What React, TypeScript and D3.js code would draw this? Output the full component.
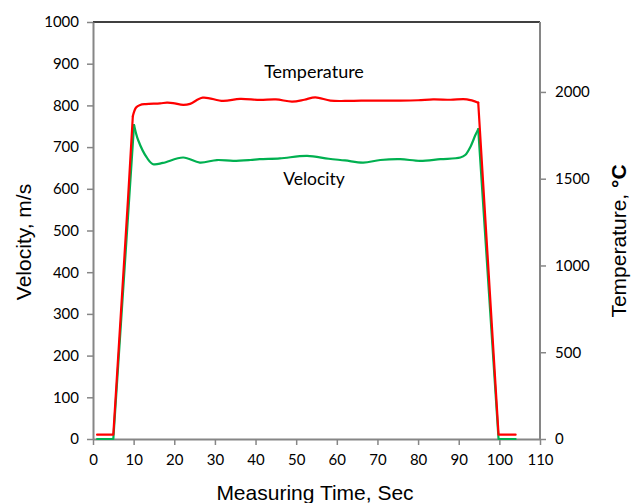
import React, { useRef, useEffect } from 'react';
import * as d3 from 'd3';

// temperature trace (red, right axis, °C)
const tempTime = [1, 5, 8.6, 9.8, 10.6, 11.6, 13, 16.5, 18.2, 19.7, 22.2, 23.9, 27, 32, 36.2, 41, 45, 49, 52, 54.7, 58.4, 62, 66, 70.7, 75.6, 80, 83.7, 88, 92, 94.8, 99.8, 104];
const tempValues = [25, 25, 1377, 1860, 1910, 1925, 1930, 1934, 1938, 1936, 1925, 1931, 1967, 1948, 1960, 1954, 1957, 1944, 1955, 1969, 1950, 1948, 1950, 1950, 1950, 1952, 1957, 1955, 1957, 1938, 25, 25];

// velocity trace (green, left axis, m/s)
const velTime = [1, 5, 10.1, 11.1, 13.3, 14.8, 17.2, 22.2, 26.3, 30.5, 34.5, 38.7, 41, 46, 52.7, 58, 62, 66.5, 70.7, 75.6, 80.5, 85.5, 90.4, 91.6, 92.9, 94.1, 94.8, 99.8, 104];
const velValues = [0, 0, 753, 717, 674, 659, 662, 675, 663, 669, 667, 669, 671, 673, 679, 672, 668, 663, 669, 671, 667, 671, 675, 681, 701, 729, 743, 0, 0];

const xTicks = [0, 10, 20, 30, 40, 50, 60, 70, 80, 90, 100, 110];
const velTicks = [0, 100, 200, 300, 400, 500, 600, 700, 800, 900, 1000];
const tempTicks = [0, 500, 1000, 1500, 2000];

const W = 638;
const H = 503;

const App = () => {
  const svgRef = useRef(null);

  useEffect(() => {
    const svg = d3.select(svgRef.current);
    svg.selectAll('*').remove();

    const left = 93, right = 540, top = 22, bottom = 439;
    const grey = '#868686';
    const tickFont = 'Lato, "Open Sans", sans-serif';
    const titleFont = '"Liberation Sans", Arial, sans-serif';

    const x = d3.scaleLinear().domain([0, 110]).range([left, right]);
    const yV = d3.scaleLinear().domain([0, 1000]).range([bottom, top]);
    const yT = d3.scaleLinear().domain([0, 2403]).range([bottom, top]);

    // frame: black top border
    svg.append('line')
      .attr('x1', left).attr('x2', right)
      .attr('y1', top).attr('y2', top)
      .attr('stroke', '#000').attr('stroke-width', 1.3);

    const styleAxis = (g) => {
      g.select('.domain').attr('stroke', grey).attr('stroke-width', 2);
      g.selectAll('.tick line').attr('stroke', grey).attr('stroke-width', 1.5);
      g.selectAll('.tick text')
        .attr('fill', '#000')
        .attr('font-family', tickFont)
        .attr('font-size', 15);
    };

    const fmt = d3.format('d');

    const gx = svg.append('g')
      .attr('transform', `translate(0,${bottom})`)
      .call(d3.axisBottom(x).tickValues(xTicks).tickFormat(fmt).tickSize(6).tickSizeOuter(0).tickPadding(9));
    styleAxis(gx);

    const gl = svg.append('g')
      .attr('transform', `translate(${left},0)`)
      .call(d3.axisLeft(yV).tickValues(velTicks).tickFormat(fmt).tickSize(6).tickSizeOuter(0).tickPadding(8));
    styleAxis(gl);

    const gr = svg.append('g')
      .attr('transform', `translate(${right},0)`)
      .call(d3.axisRight(yT).tickValues(tempTicks).tickFormat(fmt).tickSize(6).tickSizeOuter(0).tickPadding(9));
    gr.select('.domain').attr('d', `M0,${bottom}V${top}`);
    styleAxis(gr);

    // ramps are straight, the plateau is smoothed
    const drawSeries = (times, values, yScale, color, rampIn, rampOut) => {
      const pts = times.map((t, i) => [x(t), yScale(values[i])]);
      const n = pts.length;
      const pieces = [
        [pts.slice(0, rampIn + 1), d3.curveLinear],
        [pts.slice(rampIn, n - rampOut), d3.curveCatmullRom.alpha(0.5)],
        [pts.slice(n - rampOut - 1), d3.curveLinear],
      ];
      pieces.forEach(([p, c]) => {
        svg.append('path')
          .attr('d', d3.line().curve(c)(p))
          .attr('fill', 'none')
          .attr('stroke', color)
          .attr('stroke-width', 2.2)
          .attr('stroke-linejoin', 'round')
          .attr('stroke-linecap', 'round');
      });
    };

    drawSeries(velTime, velValues, yV, '#00b050', 2, 2);
    drawSeries(tempTime, tempValues, yT, '#ff0000', 3, 2);

    // series labels
    svg.append('text')
      .attr('x', 314).attr('y', 78)
      .attr('text-anchor', 'middle')
      .attr('font-family', tickFont).attr('font-size', 18)
      .text('Temperature');
    svg.append('text')
      .attr('x', 314).attr('y', 185)
      .attr('text-anchor', 'middle')
      .attr('font-family', tickFont).attr('font-size', 17.5)
      .text('Velocity');

    // axis titles
    svg.append('text')
      .attr('x', 315).attr('y', 500)
      .attr('text-anchor', 'middle')
      .attr('font-family', titleFont).attr('font-size', 21)
      .text('Measuring Time, Sec');

    svg.append('text')
      .attr('transform', 'translate(31,242) rotate(-90)')
      .attr('text-anchor', 'middle')
      .attr('font-family', titleFont).attr('font-size', 21)
      .text('Velocity, m/s');

    const rt = svg.append('text')
      .attr('transform', 'translate(626,241) rotate(-90)')
      .attr('text-anchor', 'middle')
      .attr('font-family', titleFont).attr('font-size', 21);
    rt.append('tspan').text('Temperature, ');
    rt.append('tspan').attr('font-weight', 'bold').text('°C');
  }, []);

  return (
    <svg
      ref={svgRef}
      width={W}
      height={H}
      style={{ position: 'absolute', left: 0, top: 0, background: '#fff' }}
    />
  );
};

export default App;
